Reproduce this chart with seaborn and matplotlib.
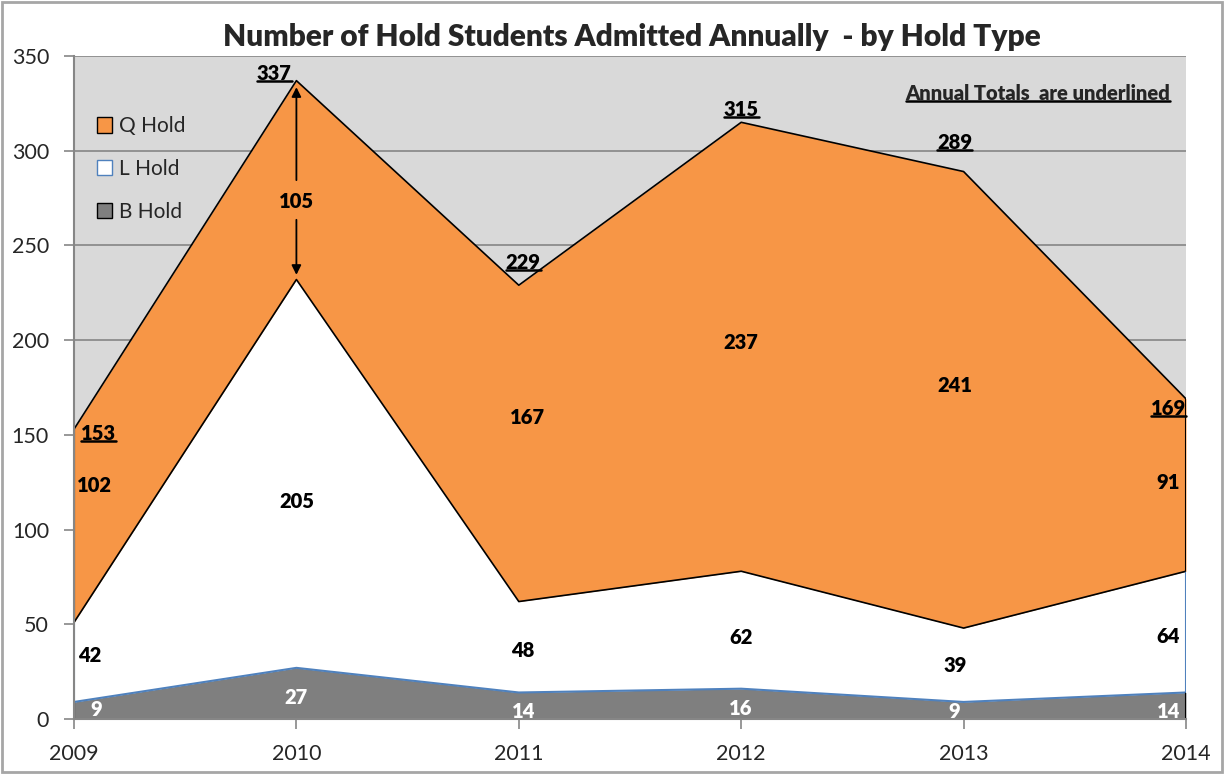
import matplotlib
matplotlib.use("Agg")
import matplotlib.pyplot as plt
from matplotlib.patches import Patch, Rectangle
from matplotlib.lines import Line2D
import seaborn as sns
import pandas as pd

# data
years = [2009, 2010, 2011, 2012, 2013, 2014]
b_hold = [9, 27, 14, 16, 9, 14]
l_hold = [42, 205, 48, 62, 39, 64]
q_hold = [102, 105, 167, 237, 241, 91]
totals = [153, 337, 229, 315, 289, 169]

df = pd.DataFrame({"year": years, "B": b_hold, "L": l_hold, "Q": q_hold})
df["BL"] = df["B"] + df["L"]
df["BLQ"] = df["BL"] + df["Q"]

sns.set_style("white")
plt.rcParams["font.family"] = ["Lato", "DejaVu Sans"]

ORANGE = "#f79646"
GREY = "#7f7f7f"
BLUE = "#4f81bd"
BOLD = "heavy"

fig = plt.figure(figsize=(12.26, 7.74), dpi=100)
ax = fig.add_axes([74 / 1226, 1 - 719 / 774, 1112 / 1226, 663 / 774])
ax.set_facecolor("#d9d9d9")

# stacked areas
ax.fill_between(df["year"], 0, df["B"], color=GREY, lw=0, zorder=2)
ax.fill_between(df["year"], df["B"], df["BL"], color="white", lw=0, zorder=2)
ax.fill_between(df["year"], df["BL"], df["BLQ"], color=ORANGE, lw=0, zorder=2)

sns.lineplot(data=df, x="year", y="B", color=BLUE, lw=1.5, ax=ax, zorder=3)
sns.lineplot(data=df, x="year", y="BL", color="black", lw=1.2, ax=ax, zorder=3)
sns.lineplot(data=df, x="year", y="BLQ", color="black", lw=1.2, ax=ax, zorder=3)

# side edges of the stack
for yr, i in [(years[0], 0), (years[-1], -1)]:
    ax.plot([yr, yr], [0, b_hold[i]], color="black", lw=1.5, zorder=3)
    ax.plot([yr, yr], [b_hold[i], b_hold[i] + l_hold[i]], color=BLUE, lw=1.5, zorder=3)
    ax.plot([yr, yr], [b_hold[i] + l_hold[i], totals[i]], color="black", lw=1.5, zorder=3)

ax.set_xlim(years[0], years[-1])
ax.set_ylim(0, 350)
ax.set_xticks(years)
ax.set_yticks(range(0, 351, 50))
ax.yaxis.grid(True, color="#868686", lw=1.2, zorder=1)
ax.set_axisbelow(True)
ax.set_xlabel("")
ax.set_ylabel("")
for s in ["top", "right"]:
    ax.spines[s].set_visible(False)
for s in ["left", "bottom"]:
    ax.spines[s].set_color("#868686")
    ax.spines[s].set_linewidth(1.5)
    ax.spines[s].set_zorder(4)
ax.tick_params(axis="both", direction="out", length=7, width=1.2, color="#868686",
               labelsize=15.5, left=True, bottom=True)
ax.tick_params(axis="x", pad=11)
ax.tick_params(axis="y", pad=11)

fig.suptitle("Number of Hold Students Admitted Annually  - by Hold Type",
             x=632 / 1226, y=1 - 37 / 774, va="center", fontsize=21.5, fontweight=BOLD)

# value labels (positions taken from the original layout)
lab = dict(fontsize=14.5, fontweight=BOLD, ha="center", va="center", zorder=5)
b_pos = [(2009.1, 4.8), (2010, 11.6), (2011.02, 4.2), (2012, 5.3), (2012.96, 4.2), (2013.92, 4.2)]
l_pos = [(2009.07, 33.3), (2010, 115), (2011.02, 36), (2012, 43), (2012.96, 28), (2013.92, 43.8)]
q_pos = [(2009.09, 123.5), (2010, 273), (2011.04, 159), (2012, 198.5), (2012.96, 176), (2013.92, 124.6)]
t_pos = [(2009.11, 150.5), (2009.9, 341), (2011.02, 241), (2012, 322), (2012.96, 304.6), (2013.92, 163.7)]

for i in range(len(years)):
    ax.text(*b_pos[i], str(b_hold[i]), color="white", **lab)
    ax.text(*l_pos[i], str(l_hold[i]), color="black", **lab)
    ax.text(*q_pos[i], str(q_hold[i]), color="black", **lab)

total_texts = [ax.text(*t_pos[i], str(totals[i]), color="black", **lab) for i in range(len(years))]
note = ax.text(2013.93, 330, "Annual Totals  are underlined", fontsize=14.5,
               fontweight=BOLD, ha="right", va="center", zorder=5)

# arrows around the 2010 Q label
arrow = dict(arrowstyle="-|>", color="black", lw=1.3, mutation_scale=14)
ax.annotate("", xy=(2010, 335), xytext=(2010, 283), arrowprops=arrow, zorder=5)
ax.annotate("", xy=(2010, 233), xytext=(2010, 265), arrowprops=arrow, zorder=5)

# legend
handles = [Patch(facecolor=ORANGE, edgecolor="black", label="Q Hold"),
           Patch(facecolor="white", edgecolor=BLUE, label="L Hold"),
           Patch(facecolor=GREY, edgecolor="black", label="B Hold")]
leg = ax.legend(handles=handles, loc="upper left", bbox_to_anchor=(-0.002, 0.947),
                frameon=False, fontsize=15, labelspacing=1.1, handlelength=0.75,
                handleheight=0.75, handletextpad=0.3, borderaxespad=0.8)

# underline totals and note
fig.canvas.draw()
r = fig.canvas.get_renderer()
inv = fig.transFigure.inverted()
for t in total_texts + [note]:
    bb = t.get_window_extent(renderer=r)
    (x0, y0), (x1, _) = inv.transform([(bb.x0, bb.y0 + 2), (bb.x1, bb.y0 + 2)])
    fig.add_artist(Line2D([x0, x1], [y0, y0], color="black", lw=1.8, zorder=6))

# outer frame
fig.add_artist(Rectangle((0.002, 0.003), 0.995, 0.994, transform=fig.transFigure,
                         fill=False, edgecolor="#a6a6a6", lw=2))

fig.savefig("out.png", dpi=100)
